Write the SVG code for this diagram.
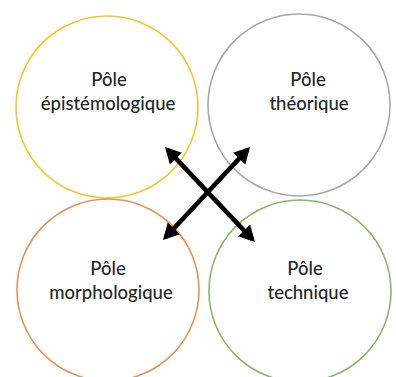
<svg xmlns="http://www.w3.org/2000/svg" width="396" height="377" viewBox="0 0 396 377">
  <style>
    .pole { fill: none; stroke-width: 1.6; }
    .label { font-family: Lato, "Open Sans", sans-serif; font-size: 18.5px; font-weight: 500; fill: #262626; text-anchor: middle; }
    .link { stroke: #000; stroke-width: 4.5; fill: none; marker-start: url(#head); marker-end: url(#head); }
  </style>
  <defs>
    <marker id="head" markerUnits="userSpaceOnUse" markerWidth="18" markerHeight="18" refX="12" refY="9" orient="auto-start-reverse">
      <path d="M0,0.5 L16,9 L0,17.5 z" fill="#000"/>
    </marker>
  </defs>
  <rect width="396" height="377" fill="#fff"/>

  <g id="pole-epistemologique">
    <circle class="pole" cx="107" cy="107" r="91" stroke="#F2C434"/>
    <text class="label" x="109" y="86">Pôle</text>
    <text class="label" x="108" y="110">épistémologique</text>
  </g>

  <g id="pole-theorique">
    <circle class="pole" cx="299" cy="105" r="91" stroke="#A8A8A8"/>
    <text class="label" x="308" y="86">Pôle</text>
    <text class="label" x="309" y="110">théorique</text>
  </g>

  <g id="pole-morphologique">
    <circle class="pole" cx="108" cy="290" r="91" stroke="#E0935E"/>
    <text class="label" x="108" y="275">Pôle</text>
    <text class="label" x="111" y="299">morphologique</text>
  </g>

  <g id="pole-technique">
    <circle class="pole" cx="300" cy="291" r="91" stroke="#8DB56C"/>
    <text class="label" x="305" y="275">Pôle</text>
    <text class="label" x="308" y="299">technique</text>
  </g>

  <g id="connectors">
    <line class="link" x1="167.8" y1="149.9" x2="252.2" y2="239.1"/>
    <line class="link" x1="247.3" y1="149.9" x2="165.7" y2="237.1"/>
  </g>
</svg>
